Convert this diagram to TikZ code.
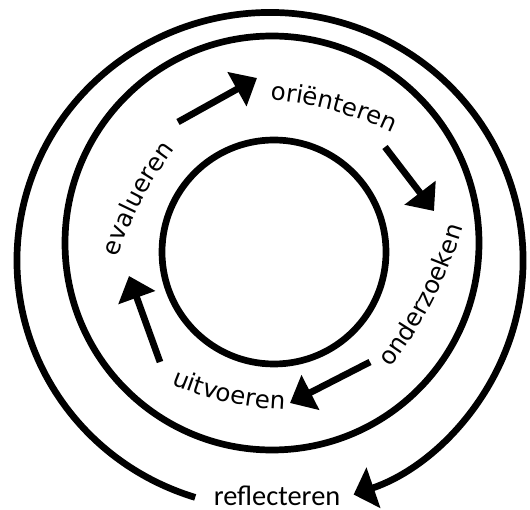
\documentclass[tikz,border=0pt]{standalone}
\usepackage{fontspec}
\usetikzlibrary{arrows.meta,decorations.text}
\newfontfamily\dvfont{DejaVu Sans}
\newfontfamily\calfont{Carlito}
\tikzset{
  ring/.style={line width=6.7pt},
  fatarrow/.style={line width=6.7pt,-{Triangle[length=23pt,width=38pt]}},
  bigarrow/.style={line width=6.7pt,-{Triangle[length=21pt,width=42pt]}},
  curvedtext/.style={decorate,decoration={text along path,text align=center,
     text={|\dvfont\fontsize{24.5}{29}\selectfont|#1}}}
}
\begin{document}
\begin{tikzpicture}[x=1pt,y=1pt]
\useasboundingbox (0,0) rectangle (530,509);
% circles
\coordinate (cin) at (274,257);
\coordinate (cmid) at (272,266);
\draw[ring] (cin) circle[radius=112pt];
\draw[ring] (cmid) circle[radius=207pt];
% outer arc with arrow
\coordinate (ostart) at (195.2,11.6);
\draw[bigarrow] (ostart) arc[start angle=252.8, end angle=-70.7, x radius=253pt, y radius=248pt];
% straight arrows
\coordinate (a1s) at (178,387); \coordinate (a1e) at (257,431);
\coordinate (a2s) at (385,362); \coordinate (a2e) at (434,298);
\coordinate (a3s) at (370,147); \coordinate (a3e) at (290,106);
\coordinate (a4s) at (160,147); \coordinate (a4e) at (129,233);
\draw[fatarrow] (a1s) -- (a1e);
\draw[fatarrow] (a2s) -- (a2e);
\draw[fatarrow] (a3s) -- (a3e);
\draw[fatarrow] (a4s) -- (a4e);
% curved labels
\path[curvedtext={oriënteren}] (239.8,50.0) ++(90:360.4pt) arc[start angle=90, end angle=60, radius=360.4pt];
\path[curvedtext={evalueren}] (452.8,144.3) ++(167.2:351.6pt) arc[start angle=167.2, end angle=137.2, radius=351.6pt];
\path[curvedtext={onderzoeken}] (44.6,407.1) ++(-42.1:436.6pt) arc[start angle=-42.1, end angle=-12.1, radius=436.6pt];
\path[curvedtext={uitvoeren}] (297.1,419) ++(-117.7:320pt) arc[start angle=-117.7, end angle=-87.7, radius=320pt];
% bottom label
\node[font=\calfont\fontsize{28.4}{34}\selectfont, anchor=base, inner sep=0pt] (refl) at (277,4) {reflecteren};
\end{tikzpicture}
\end{document}
